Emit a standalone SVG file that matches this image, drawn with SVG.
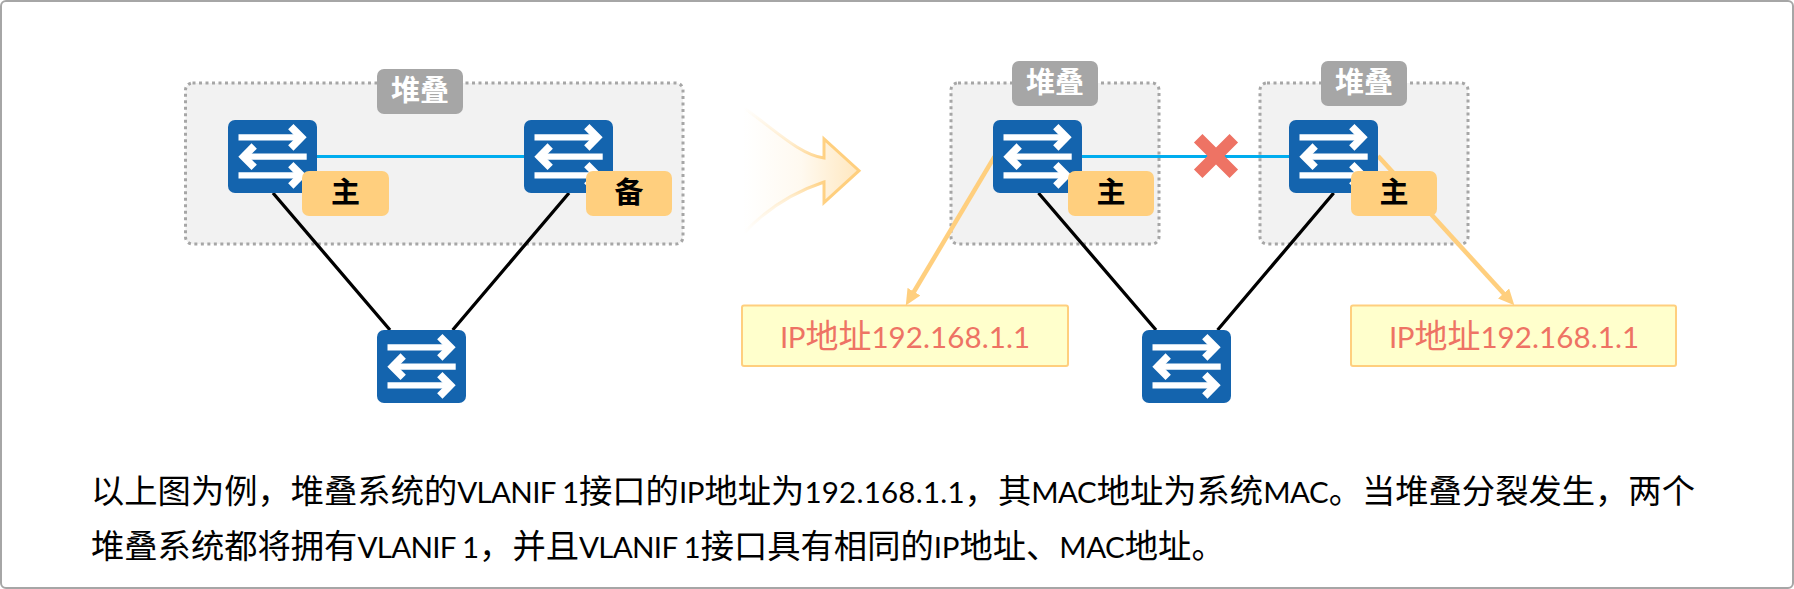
<svg xmlns="http://www.w3.org/2000/svg" width="1794" height="589" viewBox="0 0 1794 589">
<style>
.stack{fill:#F2F2F2;stroke:#A6A6A6;stroke-width:3;stroke-dasharray:3 3.500}
.lbl{fill:#A6A6A6}
.lblt{fill:#fff;font:700 29px "Noto Sans CJK SC",sans-serif;text-anchor:middle}
.tag{fill:#FFCF7E}
.tagt{fill:#000;font:700 29px "Noto Sans CJK SC",sans-serif;text-anchor:middle}
.sw{fill:#1464AE}
.ar{fill:none;stroke:#fff;stroke-width:6.300}
.arh{fill:none;stroke:#fff;stroke-width:7.500}
.blue{stroke:#00ADEF;stroke-width:2.800;fill:none}
.blk{stroke:#000;stroke-width:3.300;fill:none}
.org{stroke:#FFCF7E;stroke-width:4.500;fill:none;marker-end:url(#ah)}
.ipb{fill:#FFFFCC;stroke:#FFCF7E;stroke-width:2}
.ipt{fill:#EE7364;font:400 33px "Noto Sans CJK SC",sans-serif}
.ipt .l,.body .l{font-family:Lato,"Noto Sans",sans-serif;font-size:29.500px}
.body{fill:#000;font:400 33.300px "Noto Sans CJK SC",sans-serif}
</style>
<defs>
<marker id="ah" markerUnits="userSpaceOnUse" markerWidth="16" markerHeight="15" viewBox="0 0 15 14" refX="8" refY="7" orient="auto"><path d="M0,0L15,7L0,14Z" fill="#FFCF7E"/></marker>
<linearGradient id="gf" x1="0" y1="0" x2="1" y2="0"><stop offset="0" stop-color="#FFCF7E" stop-opacity="0"/><stop offset=".5" stop-color="#FFCF7E" stop-opacity=".12"/><stop offset="1" stop-color="#FFCF7E" stop-opacity=".5"/></linearGradient>
<linearGradient id="gs" x1="0" y1="0" x2="1" y2="0"><stop offset="0" stop-color="#FFCF7E" stop-opacity="0"/><stop offset=".4" stop-color="#FFCF7E" stop-opacity=".35"/><stop offset=".72" stop-color="#FFCF7E"/></linearGradient>
<g id="swi"><rect class="sw" width="89" height="73" rx="7"/>
<path class="ar" d="M10.500,17.300H74M78.700,36.700H15M10.500,55.300H74"/>
<path class="arh" d="M62.800,6.600L73.400,17.300L62.800,28M26.200,26L15.600,36.700L26.200,47.400M62.800,44.600L73.400,55.300L62.800,66"/></g>
</defs>
<rect x="1" y="1" width="1792" height="587" rx="5" fill="#fff" stroke="#A6A6A6" stroke-width="2"/>
<g id="stack-left"><rect class="stack" x="185.500" y="83" width="497.500" height="161" rx="7"/><rect class="lbl" x="377" y="69" width="86" height="45" rx="7"/><text class="lblt" x="420" y="101">堆叠</text></g>
<g id="stack-a"><rect class="stack" x="951" y="83" width="208" height="161" rx="7"/><rect class="lbl" x="1012" y="61" width="86" height="45" rx="7"/><text class="lblt" x="1055" y="93">堆叠</text></g>
<g id="stack-b"><rect class="stack" x="1260" y="83" width="208" height="161" rx="7"/><rect class="lbl" x="1321" y="61" width="86" height="45" rx="7"/><text class="lblt" x="1364" y="93">堆叠</text></g>
<g id="ip-a"><rect class="ipb" x="742" y="305.500" width="326" height="60.500" rx="2"/><text class="ipt" y="347.500"><tspan class="l" x="780" textLength="25.400">IP</tspan><tspan x="805.400">地址</tspan><tspan class="l" x="871.400" textLength="158.800">192.168.1.1</tspan></text></g>
<g id="ip-b"><rect class="ipb" x="1351" y="305.500" width="325" height="60.500" rx="2"/><text class="ipt" y="347.500"><tspan class="l" x="1389" textLength="25.400">IP</tspan><tspan x="1414.400">地址</tspan><tspan class="l" x="1480.400" textLength="158.800">192.168.1.1</tspan></text></g>
<g id="connectors">
<path class="blue" d="M317,156.500H524M1082,156.500H1289"/>
<path class="blk" d="M273,193L390,330M569,193L452.700,330M1038.500,193L1156,330M1333.700,193L1217.600,330"/>
<path class="org" d="M994.500,156.700L909.600,299"/>
<path class="org" d="M1378,156L1509.300,299.800"/>
</g>
<g id="sw-1"><use href="#swi" x="228" y="120"/></g>
<g id="sw-2"><use href="#swi" x="524" y="120"/></g>
<g id="sw-3"><use href="#swi" x="377" y="330"/></g>
<g id="sw-a"><use href="#swi" x="993" y="120"/></g>
<g id="sw-b"><use href="#swi" x="1289" y="120"/></g>
<g id="sw-c"><use href="#swi" x="1142" y="330"/></g>
<g id="tag-1"><rect class="tag" x="302" y="171" width="87" height="45" rx="7"/><text class="tagt" x="345.500" y="203">主</text></g>
<g id="tag-2"><rect class="tag" x="586" y="171" width="86" height="45" rx="7"/><text class="tagt" x="629" y="203">备</text></g>
<g id="tag-a"><rect class="tag" x="1068" y="171" width="86" height="45" rx="7"/><text class="tagt" x="1111" y="203">主</text></g>
<g id="tag-b"><rect class="tag" x="1351" y="171" width="86" height="45" rx="7"/><text class="tagt" x="1394" y="203">主</text></g>
<g id="cross"><path d="M1198.200,138.200L1233.800,173.800M1233.800,138.200L1198.200,173.800" stroke="#EE7364" stroke-width="12" fill="none"/></g>
<g id="big-arrow"><path d="M744,108C775,130 800,155 824,158L824,139L859,170.700L824,202.700L824,182C800,190 770,205 744,233Z" fill="url(#gf)" stroke="url(#gs)" stroke-width="3"/></g>
<text class="body" y="503"><tspan x="91">以上图为例，堆叠系统的</tspan><tspan class="l" x="457.300" textLength="121.700">VLANIF 1</tspan><tspan x="579">接口的</tspan><tspan class="l" x="678.900" textLength="25.600">IP</tspan><tspan x="704.500">地址为</tspan><tspan class="l" x="804.400" textLength="160.200">192.168.1.1</tspan><tspan x="964.600">，其</tspan><tspan class="l" x="1031.200" textLength="65.500">MAC</tspan><tspan x="1096.700">地址为系统</tspan><tspan class="l" x="1263.200" textLength="65.500">MAC</tspan><tspan x="1328.700">。当堆叠分裂发生，两个</tspan></text>
<text class="body" y="558"><tspan x="91">堆叠系统都将拥有</tspan><tspan class="l" x="357.400" textLength="121.700">VLANIF 1</tspan><tspan x="479.100">，并且</tspan><tspan class="l" x="579" textLength="121.700">VLANIF 1</tspan><tspan x="700.700">接口具有相同的</tspan><tspan class="l" x="933.800" textLength="25.600">IP</tspan><tspan x="959.400">地址、</tspan><tspan class="l" x="1059.300" textLength="65.500">MAC</tspan><tspan x="1124.800">地址。</tspan></text>
</svg>
